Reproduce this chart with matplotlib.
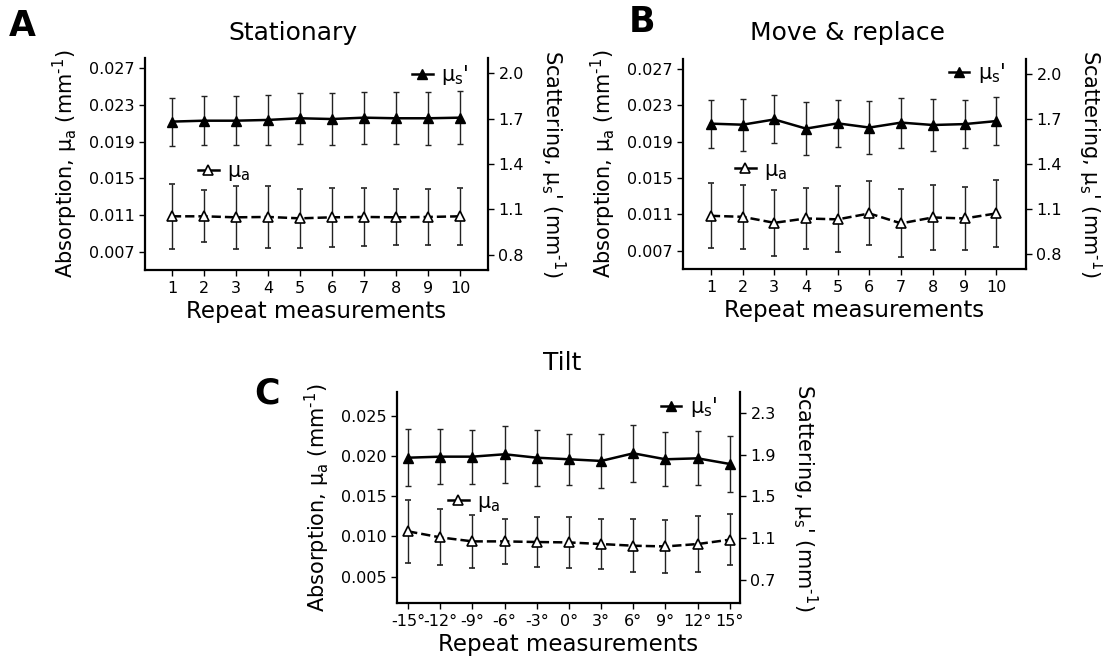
import matplotlib
matplotlib.use("Agg")
import matplotlib.pyplot as plt
from matplotlib.lines import Line2D

# ── data ─────────────────────────────────────────────────────────────────────
REPEATS = [1, 2, 3, 4, 5, 6, 7, 8, 9, 10]
TILT = [-15, -12, -9, -6, -3, 0, 3, 6, 9, 12, 15]
TILT_LABELS = ["-15°", "-12°", "-9°", "-6°", "-3°", "0°", "3°", "6°", "9°", "12°", "15°"]

# A: stationary
a_mus = [1.680, 1.686, 1.686, 1.691, 1.702, 1.697, 1.706, 1.702, 1.702, 1.706]
a_mus_err = [0.158, 0.163, 0.163, 0.166, 0.169, 0.171, 0.172, 0.173, 0.175, 0.175]
a_mua = [0.01085, 0.01085, 0.01074, 0.01078, 0.01063, 0.01074, 0.01078, 0.01074, 0.01078, 0.01085]
a_mua_err = [0.00353, 0.00282, 0.00346, 0.00337, 0.00322, 0.00319, 0.00315, 0.00304, 0.00304, 0.00310]

# B: move & replace
b_mus = [1.669, 1.662, 1.697, 1.636, 1.671, 1.643, 1.676, 1.660, 1.666, 1.686]
b_mus_err = [0.161, 0.174, 0.160, 0.176, 0.157, 0.178, 0.167, 0.174, 0.161, 0.160]
b_mua = [0.01085, 0.01074, 0.01008, 0.01056, 0.01046, 0.01111, 0.01002, 0.01067, 0.01056, 0.01111]
b_mua_err = [0.00356, 0.00354, 0.00363, 0.00336, 0.00363, 0.00352, 0.00373, 0.00360, 0.00345, 0.00369]

# C: tilt
c_mus = [1.871, 1.881, 1.881, 1.904, 1.871, 1.856, 1.840, 1.913, 1.856, 1.865, 1.811]
c_mus_err = [0.272, 0.261, 0.257, 0.272, 0.267, 0.245, 0.259, 0.275, 0.257, 0.259, 0.264]
c_mua = [0.01063, 0.00988, 0.00938, 0.00938, 0.00930, 0.00925, 0.00905, 0.00884, 0.00875, 0.00905, 0.00959]
c_mua_err = [0.00394, 0.00348, 0.00327, 0.00277, 0.00317, 0.00317, 0.00313, 0.00333, 0.00327, 0.00346, 0.00317]

# ── style ────────────────────────────────────────────────────────────────────
plt.rcParams["font.family"] = ["DejaVu Sans"]
TICK_FS = 11.5
LABEL_FS = 15
XLABEL_FS = 16.5
TITLE_FS = 18
LEG_FS = 15

YLAB_L = "Absorption, μ$_\\mathregular{a}$ (mm$^\\mathregular{\u20101}$)"
YLAB_R = "Scattering, μ$_\\mathregular{s}$' (mm$^\\mathregular{\u20101}$)"
LEG_S = "μ$_\\mathregular{s}$'"
LEG_A = "μ$_\\mathregular{a}$"


def panel(fig, rect, x, mus, mus_err, mua, mua_err, xlim, ylim_l, ylim_r,
          yticks_l, yticks_r, ytl_fmt, leg_s_pos, leg_a_pos, xticklabels=None):
    ax = fig.add_axes(rect)
    ax2 = ax.twinx()

    ax.errorbar(x, mua, yerr=mua_err, color="black", linestyle="--", linewidth=1.8,
                marker="^", markersize=7, markerfacecolor="white", markeredgecolor="black",
                markeredgewidth=1.2, ecolor="#222222", elinewidth=1.0, capsize=2.5, zorder=3)
    ax2.errorbar(x, mus, yerr=mus_err, color="black", linestyle="-", linewidth=1.8,
                 marker="^", markersize=7, markerfacecolor="black", markeredgecolor="black",
                 ecolor="#222222", elinewidth=1.0, capsize=2.5, zorder=3)

    ax.set_xlim(*xlim)
    ax.set_ylim(*ylim_l)
    ax2.set_ylim(*ylim_r)
    ax.set_xticks(x)
    if xticklabels is not None:
        ax.set_xticklabels(xticklabels)
    ax.set_yticks(yticks_l)
    ax.set_yticklabels([ytl_fmt.format(v) for v in yticks_l])
    ax2.set_yticks(yticks_r)
    ax2.set_yticklabels(["{:.1f}".format(v) for v in yticks_r])

    for a in (ax, ax2):
        a.spines["top"].set_visible(False)
        a.tick_params(labelsize=TICK_FS, length=4, width=1, colors="black")
    ax.spines["right"].set_visible(False)
    ax2.spines["left"].set_visible(False)
    ax2.spines["bottom"].set_visible(False)
    ax.spines["left"].set_linewidth(1.6)
    ax.spines["bottom"].set_linewidth(1.6)
    ax2.spines["right"].set_linewidth(1.6)
    ax.tick_params(axis="x", pad=4)

    ax.set_xlabel("Repeat measurements", fontsize=XLABEL_FS, labelpad=3)
    ax.set_ylabel(YLAB_L, fontsize=LABEL_FS, labelpad=6)
    ax2.set_ylabel(YLAB_R, fontsize=LABEL_FS, rotation=-90, va="bottom", labelpad=10)

    h_s = Line2D([], [], color="black", linewidth=1.8, marker="^", markersize=7,
                 markerfacecolor="black")
    h_a = Line2D([], [], color="black", linewidth=1.8, marker="^", markersize=7,
                 markerfacecolor="white", markeredgewidth=1.2)
    leg1 = ax2.legend([h_s], [LEG_S], loc="center", bbox_to_anchor=leg_s_pos,
                      frameon=False, handlelength=1.0, handletextpad=0.4,
                      fontsize=LEG_FS, borderpad=0, borderaxespad=0)
    ax2.add_artist(leg1)
    ax2.legend([h_a], [LEG_A], loc="center", bbox_to_anchor=leg_a_pos,
               frameon=False, handlelength=1.0, handletextpad=0.4,
               fontsize=LEG_FS, borderpad=0, borderaxespad=0)
    return ax, ax2


W, H = 1103, 658
fig = plt.figure(figsize=(W / 100, H / 100), dpi=100)


def rect(l, r, t, b):
    return [l / W, 1 - b / H, (r - l) / W, (b - t) / H]


yt_ab = [0.007, 0.011, 0.015, 0.019, 0.023, 0.027]
yr_ab = [0.8, 1.1, 1.4, 1.7, 2.0]

panel(fig, rect(145, 488, 58, 270), REPEATS, a_mus, a_mus_err, a_mua, a_mua_err,
      (0.16, 10.87), (0.0050, 0.0281), (0.70, 2.10), yt_ab, yr_ab, "{:.3f}",
      (0.86, 0.92), (0.23, 0.462))

panel(fig, rect(683, 1026, 59, 269), REPEATS, b_mus, b_mus_err, b_mua, b_mua_err,
      (0.12, 10.94), (0.0050, 0.0281), (0.70, 2.10), yt_ab, yr_ab, "{:.3f}",
      (0.857, 0.932), (0.227, 0.468))

panel(fig, rect(397, 740, 392, 603), TILT, c_mus, c_mus_err, c_mua, c_mua_err,
      (-16.04, 15.95), (0.0017, 0.0280), (0.48, 2.50),
      [0.005, 0.010, 0.015, 0.020, 0.025], [0.7, 1.1, 1.5, 1.9, 2.3], "{:.3f}",
      (0.851, 0.927), (0.225, 0.475), xticklabels=TILT_LABELS)

# titles
fig.text(293 / W, 1 - 33 / H, "Stationary", fontsize=TITLE_FS, ha="center", va="center")
fig.text(847 / W, 1 - 33 / H, "Move & replace", fontsize=TITLE_FS, ha="center", va="center")
fig.text(562 / W, 1 - 363 / H, "Tilt", fontsize=TITLE_FS, ha="center", va="center")

# panel letters
for lab, (px, py) in {"A": (22.5, 25.5), "B": (642, 22), "C": (267, 393)}.items():
    fig.text(px / W, 1 - py / H, lab, fontsize=25, fontweight="bold",
             ha="center", va="center")

fig.savefig("out.png", dpi=100)
